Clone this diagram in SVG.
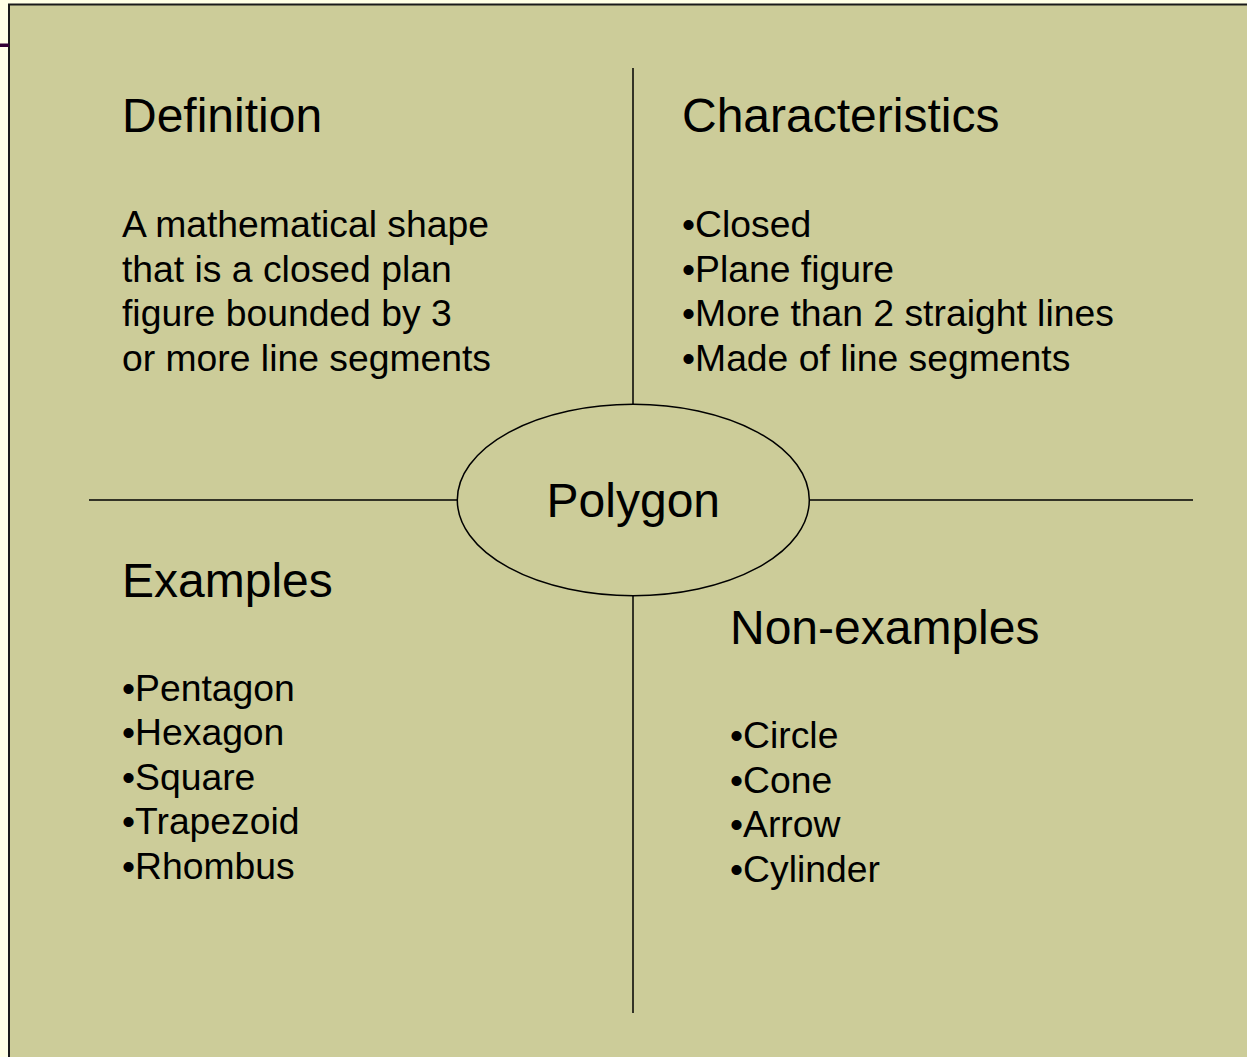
<svg xmlns="http://www.w3.org/2000/svg" width="1247" height="1057" viewBox="0 0 1247 1057">
<style>
.t{font-family:"Liberation Sans",Arial,sans-serif;fill:#000}
.h{font-size:48px}
.b{font-size:37.3px}
.ln{stroke:#000;stroke-width:1.5;fill:none}
</style>
<rect x="0" y="0" width="1247" height="1057" fill="#FFFFE6"/>
<rect x="9" y="4.5" width="1300" height="1100" fill="#CCCC99" stroke="#1a1a1a" stroke-width="2"/>
<rect x="0" y="43.5" width="9" height="3.5" fill="#330033"/>
<g id="connectors">
<line class="ln" x1="633" y1="68" x2="633" y2="404.5"/>
<line class="ln" x1="633" y1="595.5" x2="633" y2="1013"/>
<line class="ln" x1="89" y1="500" x2="457.5" y2="500"/>
<line class="ln" x1="809" y1="500" x2="1193" y2="500"/>
</g>
<g id="polygon">
<ellipse class="ln" cx="633.3" cy="500" rx="176" ry="95.7"/>
<text class="t h" x="633.3" y="517" text-anchor="middle">Polygon</text>
</g>
<g id="definition">
<text class="t h" x="122" y="132">Definition</text>
<text class="t b" x="122" y="237">A mathematical shape</text>
<text class="t b" x="122" y="281.5">that is a closed plan</text>
<text class="t b" x="122" y="326">figure bounded by 3</text>
<text class="t b" x="122" y="370.5">or more line segments</text>
</g>
<g id="characteristics">
<text class="t h" x="682" y="132">Characteristics</text>
<text class="t b" x="682" y="237">•Closed</text>
<text class="t b" x="682" y="281.5">•Plane figure</text>
<text class="t b" x="682" y="326">•More than 2 straight lines</text>
<text class="t b" x="682" y="370.5">•Made of line segments</text>
</g>
<g id="examples">
<text class="t h" x="122" y="596.5">Examples</text>
<text class="t b" x="122" y="700.5">•Pentagon</text>
<text class="t b" x="122" y="745">•Hexagon</text>
<text class="t b" x="122" y="789.5">•Square</text>
<text class="t b" x="122" y="834">•Trapezoid</text>
<text class="t b" x="122" y="878.5">•Rhombus</text>
</g>
<g id="nonexamples">
<text class="t h" x="730" y="644">Non-examples</text>
<text class="t b" x="730" y="748">•Circle</text>
<text class="t b" x="730" y="792.5">•Cone</text>
<text class="t b" x="730" y="837">•Arrow</text>
<text class="t b" x="730" y="881.5">•Cylinder</text>
</g>
</svg>
